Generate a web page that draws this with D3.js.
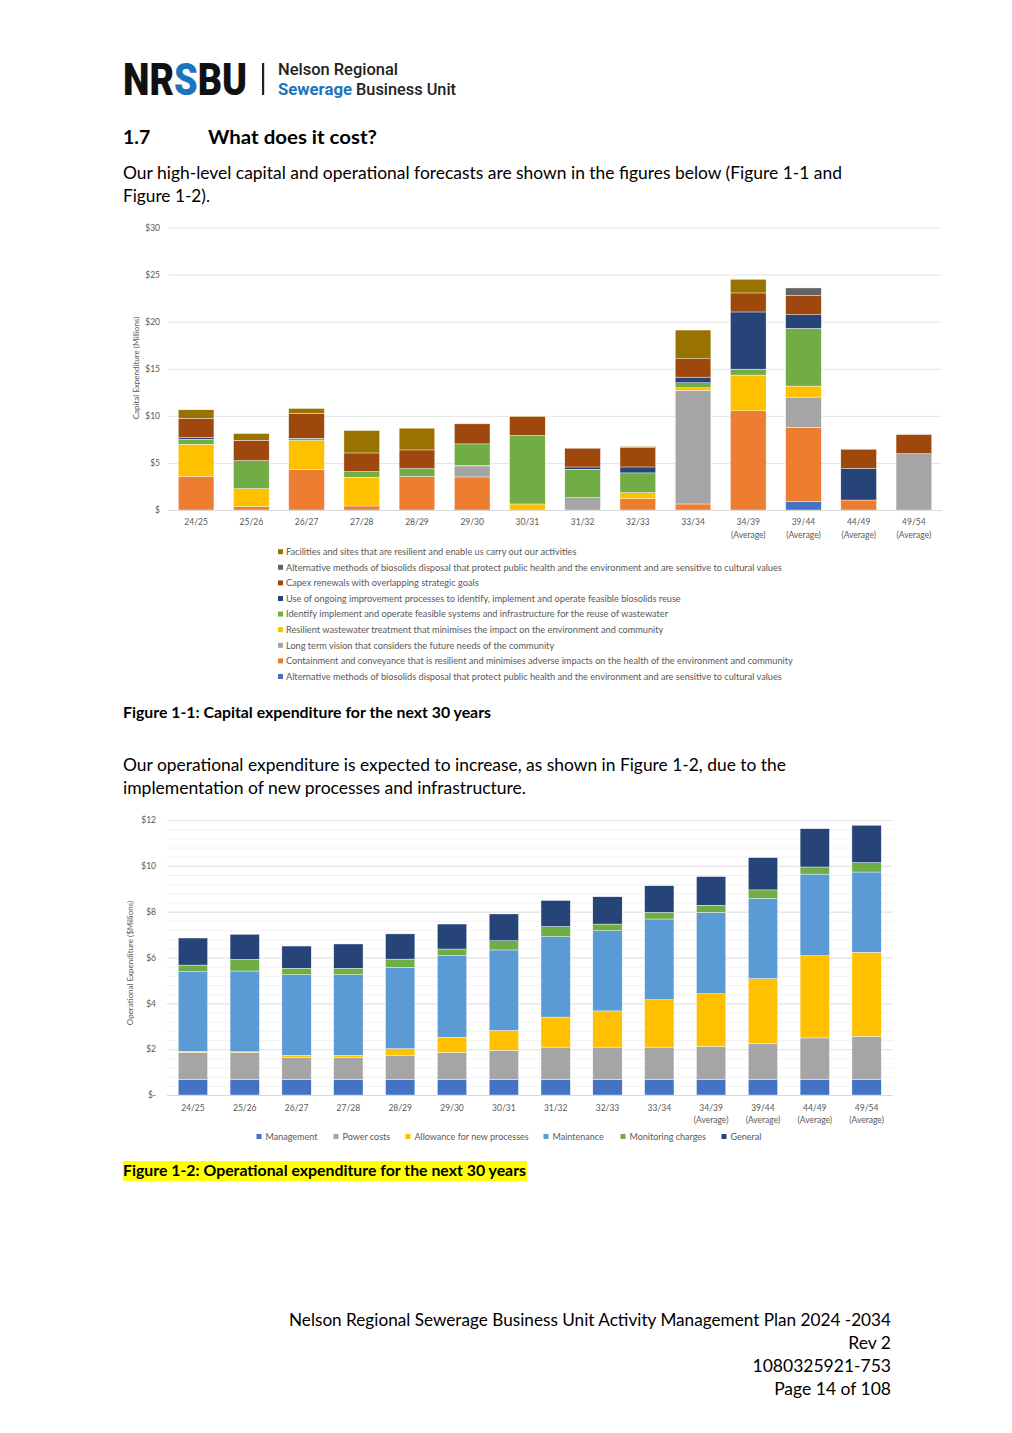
<!DOCTYPE html>
<html><head><meta charset="utf-8">
<script src="https://cdn.jsdelivr.net/npm/d3@7"></script>
<style>
html,body{margin:0;padding:0;background:#fff;}
svg{display:block;}
</style></head>
<body>
<svg id="page" width="1012" height="1433"></svg>
<script>
// ---------- DATA ----------
const capexCategories = ["24/25","25/26","26/27","27/28","28/29","29/30","30/31","31/32","32/33","33/34","34/39|(Average)","39/44|(Average)","44/49|(Average)","49/54|(Average)"];
const capexSeriesNames = [
  "Alternative methods of biosolids disposal that protect public health and the environment and are sensitive to cultural values",
  "Containment and conveyance that is resilient and minimises adverse impacts on the health of the environment and community",
  "Long term vision that considers the future needs of the community",
  "Resilient wastewater treatment that minimises the impact on the environment and community",
  "Identify implement and operate feasible systems and infrastructure for the reuse of wastewater",
  "Use of ongoing improvement processes to identify, implement and operate feasible biosolids reuse",
  "Capex renewals with overlapping strategic goals",
  "Alternative methods of biosolids disposal that protect public health and the environment and are sensitive to cultural values ",
  "Facilities and sites that are resilient and enable us carry out our activities"
];
const capexAltBlue   = [0,0,0,0,0,0,0,0,0,0,0,0.89,0,0];
const capexContain   = [3.58,0.35,4.33,0.43,3.55,3.51,0,0,1.21,0.64,10.53,7.90,1.06,0];
const capexLongTerm  = [0,0,0,0,0,1.17,0,1.31,0,12.06,0,3.20,0,5.99];
const capexResilient = [3.41,1.92,3.05,3.05,0,0.05,0.64,0,0.63,0.28,3.80,1.17,0,0];
const capexReuseWW   = [0.53,2.98,0.24,0.60,0.85,2.29,7.27,3.02,2.10,0.53,0.63,6.13,0,0];
const capexBiosolids = [0.18,0,0,0,0,0,0,0.24,0.63,0.60,6.07,1.45,3.37,0];
const capexRenewals  = [2.05,2.16,2.66,1.98,1.98,2.13,2.02,1.99,2.06,1.95,2.02,2.03,2.02,2.02];
const capexAltGrey   = [0,0,0,0,0,0,0,0,0,0,0,0.81,0,0];
const capexFacilities= [0.89,0.71,0.50,2.38,2.31,0.07,0.05,0,0.11,3.05,1.45,0,0,0];
const capexColors = ["#4472C4","#ED7D31","#A5A5A5","#FFC000","#70AD47","#264478","#9E480E","#636363","#997300"];
const capexTicks = [0,5,10,15,20,25,30];

const opexCategories = capexCategories;
const opexSeriesNames = ["Management","Power costs","Allowance for new processes","Maintenance","Monitoring charges","General"];
const opexManagement = [0.68,0.68,0.68,0.68,0.68,0.68,0.68,0.68,0.68,0.68,0.68,0.68,0.68,0.68];
const opexPower      = [1.18,1.18,0.96,0.96,1.04,1.18,1.27,1.41,1.41,1.41,1.44,1.56,1.81,1.88];
const opexAllowance  = [0.05,0.03,0.09,0.09,0.30,0.66,0.87,1.31,1.58,2.07,2.30,2.84,3.59,3.67];
const opexMaint      = [3.47,3.52,3.52,3.52,3.55,3.56,3.51,3.51,3.50,3.52,3.55,3.50,3.56,3.50];
const opexMonitoring = [0.29,0.51,0.28,0.28,0.36,0.29,0.40,0.44,0.29,0.29,0.31,0.37,0.31,0.41];
const opexGeneral    = [1.18,1.09,0.97,1.06,1.10,1.09,1.17,1.14,1.19,1.16,1.25,1.41,1.67,1.63];
const opexColors = ["#4472C4","#A5A5A5","#FFC000","#5B9BD5","#70AD47","#264478"];
const opexTicks = [0,2,4,6,8,10,12];
const opexMinorTicks = d3.range(0,12.01,0.4);

// ---------- PAGE ----------
const svg = d3.select("#page");
const FONT = "Lato, 'Open Sans', sans-serif";
const AXC = "#595959";

function fitText(sel, w){ sel.attr("textLength", w).attr("lengthAdjust","spacingAndGlyphs"); return sel; }

// Logo: one text, the "S" coloured through a gradient fill
const defs = svg.append("defs");
const lgLogo = defs.append("linearGradient").attr("id","logoFill").attr("gradientUnits","userSpaceOnUse")
  .attr("x1",123).attr("x2",247).attr("y1",0).attr("y2",0);
const f1 = (173.5-123)/124, f2 = (196.5-123)/124;
[[0,"#111"],[f1,"#111"],[f1,"#1B75BC"],[f2,"#1B75BC"],[f2,"#111"],[1,"#111"]].forEach(s=>
  lgLogo.append("stop").attr("offset",s[0]).attr("stop-color",s[1]));
fitText(svg.append("text").attr("x",123).attr("y",95).attr("font-family","Roboto, sans-serif").attr("font-weight",900)
  .attr("font-size",45).attr("fill","url(#logoFill)").text("NRSBU"),124);
svg.append("rect").attr("x",262).attr("y",63).attr("width",2.2).attr("height",32).attr("fill","#222");
fitText(svg.append("text").attr("x",278).attr("y",75).attr("font-family","Roboto, sans-serif").attr("font-weight",500)
  .attr("font-size",16.5).attr("fill","#222").text("Nelson Regional"),120);
fitText(svg.append("text").attr("x",278).attr("y",95).attr("font-family","Roboto, sans-serif").attr("font-weight",700)
  .attr("font-size",16.5).attr("fill","#1B75BC").text("Sewerage"),74);
fitText(svg.append("text").attr("x",356).attr("y",95).attr("font-family","Roboto, sans-serif").attr("font-weight",500)
  .attr("font-size",16.5).attr("fill","#222").text("Business Unit"),100);

// Heading
svg.append("text").attr("x",123).attr("y",144).attr("font-family",FONT).attr("font-weight",700).attr("font-size",19.5).text("1.7");
fitText(svg.append("text").attr("x",208).attr("y",144).attr("font-family",FONT).attr("font-weight",700).attr("font-size",19.5).text("What does it cost?"),169);

// Body text
function bodyLine(txt,x,y,w,opts={}){
  const t = svg.append("text").attr("x",x).attr("y",y).attr("font-family",FONT).attr("font-size",opts.size||17.5)
    .attr("font-weight",opts.bold?700:400).attr("fill","#000").text(txt);
  if(opts.anchor) t.attr("text-anchor",opts.anchor);
  if(w) fitText(t,w);
  return t;
}
bodyLine("Our high-level capital and operational forecasts are shown in the figures below (Figure 1-1 and",123,179,719);
bodyLine("Figure 1-2).",123,202,87);

// ---------- CHART 1 ----------
(function(){
  const x = d3.scaleBand().domain(capexCategories).range([168.5,941.5]).paddingInner(0.354).paddingOuter(0.177);
  const y = d3.scaleLinear().domain([0,30]).range([510,227.5]);
  const g = svg.append("g");
  const grid = g.append("g").attr("transform","translate(168.5,0)")
    .call(d3.axisLeft(y).tickValues(capexTicks).tickSize(-773).tickFormat(""));
  grid.select(".domain").remove();
  grid.selectAll("line").attr("stroke","#E4E4E4").attr("stroke-width",1);
  const ya = g.append("g").attr("transform","translate(160,0)")
    .call(d3.axisLeft(y).tickValues(capexTicks).tickSize(0).tickPadding(0).tickFormat(d=> d===0?"$":"$"+d));
  ya.select(".domain").remove();
  ya.selectAll("text").attr("font-family",FONT).attr("font-size",8.5).attr("fill",AXC);
  g.append("text").attr("transform","translate(139,368) rotate(-90)").attr("text-anchor","middle")
    .attr("font-family",FONT).attr("font-size",8).attr("fill",AXC).text("Capital Expenditure (Millions)");
  const seriesVals = [capexAltBlue,capexContain,capexLongTerm,capexResilient,capexReuseWW,capexBiosolids,capexRenewals,capexAltGrey,capexFacilities];
  const rows = capexCategories.map((c,i)=>{ const r={cat:c}; seriesVals.forEach((s,k)=>r["s"+k]=s[i]); return r; });
  const stack = d3.stack().keys(seriesVals.map((s,k)=>"s"+k))(rows);
  g.selectAll("g.ser").data(stack).join("g").attr("fill",(d,k)=>capexColors[k])
    .selectAll("rect").data(d=>d).join("rect")
    .attr("x",d=>x(d.data.cat)).attr("width",x.bandwidth())
    .attr("y",d=>y(d[1])).attr("height",d=>Math.max(0,y(d[0])-y(d[1])))
    .attr("stroke","#fff").attr("stroke-width",0.4);
  g.append("line").attr("x1",168.5).attr("x2",941.5).attr("y1",510.5).attr("y2",510.5).attr("stroke","#D9D9D9");
  const xa = g.append("g").attr("transform","translate(0,510)").call(d3.axisBottom(x).tickSize(0).tickPadding(0).tickFormat(""));
  xa.select(".domain").remove();
  xa.selectAll(".tick").each(function(d){
    const parts = d.split("|");
    const t = d3.select(this).append("text").attr("font-family",FONT).attr("font-size",8.5).attr("fill",AXC).attr("text-anchor","middle");
    parts.forEach((p,i)=>t.append("tspan").attr("x",0).attr("y",15+i*13).text(p));
  });
  const legOrder = d3.range(seriesVals.length).reverse();
  const lg = g.append("g");
  legOrder.forEach((k,i)=>{
    const cy = 552 + i*15.6;
    lg.append("rect").attr("x",278).attr("y",cy-2.8).attr("width",5).attr("height",5).attr("fill",capexColors[k]);
    lg.append("text").attr("x",286).attr("y",cy+3).attr("font-family",FONT).attr("font-size",9.2).attr("fill",AXC).text(capexSeriesNames[k].trim());
  });
})();

bodyLine("Figure 1-1: Capital expenditure for the next 30 years",123,718,368,{bold:true,size:15.5});
bodyLine("Our operational expenditure is expected to increase, as shown in Figure 1-2, due to the",123,771,663);
bodyLine("implementation of new processes and infrastructure.",123,794,403);

// ---------- CHART 2 ----------
(function(){
  const x = d3.scaleBand().domain(opexCategories).range([167,892.5]).paddingInner(0.434).paddingOuter(0.217);
  const y = d3.scaleLinear().domain([0,12]).range([1095,820]);
  const g = svg.append("g");
  const minor = g.append("g").attr("transform","translate(167,0)")
    .call(d3.axisLeft(y).tickValues(opexMinorTicks).tickSize(-725.5).tickFormat(""));
  minor.select(".domain").remove();
  minor.selectAll("line").attr("stroke","#F2F2F2");
  const grid = g.append("g").attr("transform","translate(167,0)")
    .call(d3.axisLeft(y).tickValues(opexTicks).tickSize(-725.5).tickFormat(""));
  grid.select(".domain").remove();
  grid.selectAll("line").attr("stroke","#E2E2E2");
  const ya = g.append("g").attr("transform","translate(156,0)")
    .call(d3.axisLeft(y).tickValues(opexTicks).tickSize(0).tickPadding(0).tickFormat(d=> d===0?"$-":"$"+d));
  ya.select(".domain").remove();
  ya.selectAll("text").attr("font-family",FONT).attr("font-size",8.5).attr("fill",AXC);
  g.append("text").attr("transform","translate(133,963) rotate(-90)").attr("text-anchor","middle")
    .attr("font-family",FONT).attr("font-size",8).attr("fill",AXC).text("Operational Expenditure ($Millions)");
  const seriesVals = [opexManagement,opexPower,opexAllowance,opexMaint,opexMonitoring,opexGeneral];
  const rows = opexCategories.map((c,i)=>{ const r={cat:c}; seriesVals.forEach((s,k)=>r["s"+k]=s[i]); return r; });
  const stack = d3.stack().keys(seriesVals.map((s,k)=>"s"+k))(rows);
  g.selectAll("g.ser").data(stack).join("g").attr("fill",(d,k)=>opexColors[k])
    .selectAll("rect").data(d=>d).join("rect")
    .attr("x",d=>x(d.data.cat)).attr("width",x.bandwidth())
    .attr("y",d=>y(d[1])).attr("height",d=>Math.max(0,y(d[0])-y(d[1])))
    .attr("stroke","#fff").attr("stroke-width",0.4);
  g.append("line").attr("x1",167).attr("x2",892.5).attr("y1",1095.5).attr("y2",1095.5).attr("stroke","#D9D9D9");
  const xa = g.append("g").attr("transform","translate(0,1095)").call(d3.axisBottom(x).tickSize(0).tickPadding(0).tickFormat(""));
  xa.select(".domain").remove();
  xa.selectAll(".tick").each(function(d){
    const parts = d.split("|");
    const t = d3.select(this).append("text").attr("font-family",FONT).attr("font-size",8.5).attr("fill",AXC).attr("text-anchor","middle");
    parts.forEach((p,i)=>t.append("tspan").attr("x",0).attr("y",16+i*12).text(p));
  });
  const legX = [259,336,408,546,623,724];
  opexSeriesNames.forEach((n,k)=>{
    svg.append("rect").attr("x",legX[k]-2.5).attr("y",1134).attr("width",5).attr("height",5).attr("fill",opexColors[k]);
    svg.append("text").attr("x",legX[k]+6.5).attr("y",1139.5).attr("font-family",FONT).attr("font-size",9).attr("fill",AXC).text(n);
  });
})();

svg.append("rect").attr("x",123).attr("y",1161).attr("width",404).attr("height",20).attr("fill","#FFFF00");
bodyLine("Figure 1-2: Operational expenditure for the next 30 years",123,1176,403,{bold:true,size:15.5});

bodyLine("Nelson Regional Sewerage Business Unit Activity Management Plan 2024 -2034",891,1326,602,{anchor:"end"});
bodyLine("Rev 2",891,1349,null,{anchor:"end"});
bodyLine("1080325921-753",891,1372,null,{anchor:"end"});
bodyLine("Page 14 of 108",891,1395,null,{anchor:"end"});
</script>
</body></html>
